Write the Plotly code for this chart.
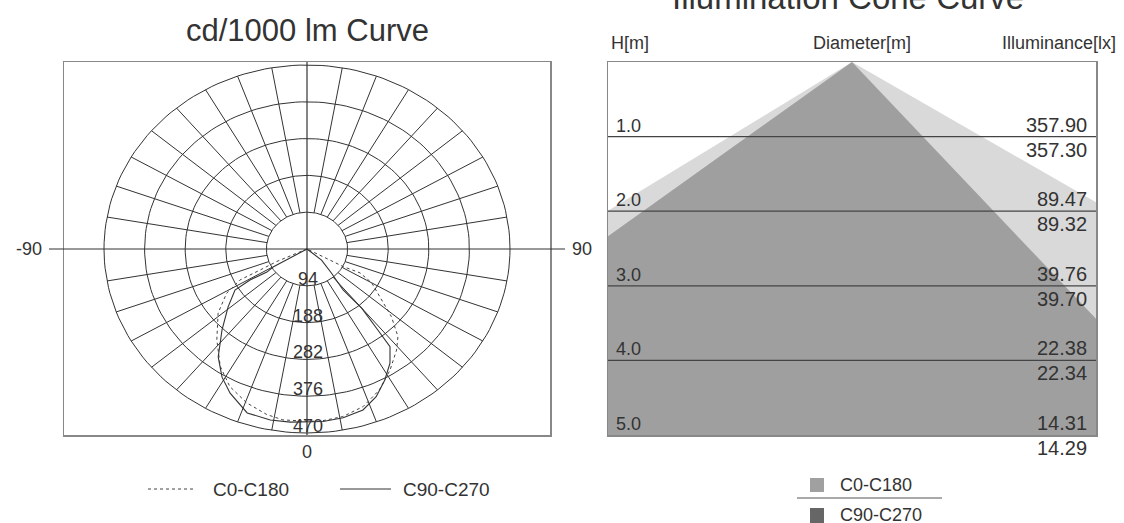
import numpy as np
import plotly.graph_objects as go

# ---------------- data ----------------
# polar intensity curves (angle in degrees from nadir, negative = left; value in cd/1000 lm)
c0_angle = [-90, -65.5, -63.7, -63, -58.7, -51.5, -42, -33.8, -27, -19.6, -12.4, -7.3, 0,
            3.9, 11, 17.9, 25, 31.9, 38.8, 43.3, 48.5, 54, 60, 63.6, 61.8, 62, 90]
c0_value = [0, 77, 121, 174, 218, 263, 312, 361, 394, 417, 433, 440, 440,
            441, 436, 423, 397, 364, 331, 307, 261, 208, 173, 137, 95, 60, 0]
c90_angle = [-90, -59.7, -57.6, -59, -57.8, -51, -43.5, -36.7, -31, -25.8, -18.3, -11, -5, 0,
             4.8, 11, 17.5, 23, 28.3, 33.4, 37.6, 38.4, 40, 38.6, 42.6, 50, 90]
c90_value = [0, 91, 110, 154, 197, 235, 286, 344, 382, 409, 441, 445, 444, 442,
             442, 439, 431, 410, 380, 349, 315, 264, 197, 134, 84, 44, 0]
ring_values = [94, 188, 282, 376, 470]
spoke_step = 10

# illumination cone
heights = [1, 2, 3, 4, 5]
illum_c0 = ["357.90", "89.47", "39.76", "22.38", "14.31"]
illum_c90 = ["357.30", "89.32", "39.70", "22.34", "14.29"]
# half-width of the cone per metre of height (left, right)
c0_spread = [1.64, 1.74]
c90_spread = [1.40, 0.95]

W, H = 1124, 523
FONT = "Liberation Sans, Arial, sans-serif"
TXT = "#333333"


def px(x):
    return x / W


def py(y):
    return 1 - y / H


def polar_xy(angles, values):
    a = np.radians(np.array(angles, dtype=float))
    r = np.array(values, dtype=float)
    return r * np.sin(a), -r * np.cos(a)


fig = go.Figure()

# ---- polar grid ----
t = np.radians(np.arange(0, 361, 2))
gx, gy = [], []
for rv in ring_values:
    gx += list(rv * np.sin(t)) + [None]
    gy += list(-rv * np.cos(t)) + [None]
for ang in range(0, 360, spoke_step):
    if ang % 90 == 0:
        continue
    a = np.radians(ang)
    gx += [ring_values[0] * np.sin(a), ring_values[-1] * np.sin(a), None]
    gy += [-ring_values[0] * np.cos(a), -ring_values[-1] * np.cos(a), None]
fig.add_trace(go.Scatter(x=gx, y=gy, mode="lines", line=dict(color="#333333", width=1),
                         hoverinfo="skip", showlegend=False, xaxis="x", yaxis="y"))

x0c, y0c = polar_xy(c0_angle, c0_value)
fig.add_trace(go.Scatter(x=x0c, y=y0c, mode="lines", name="C0-C180",
                         line=dict(color="#444444", width=1, dash="dot"),
                         showlegend=False, xaxis="x", yaxis="y"))
x9c, y9c = polar_xy(c90_angle, c90_value)
fig.add_trace(go.Scatter(x=x9c, y=y9c, mode="lines", name="C90-C270",
                         line=dict(color="#333333", width=1.1),
                         showlegend=False, xaxis="x", yaxis="y"))

# ---- cone ----
hmax = heights[-1]
fig.add_trace(go.Scatter(x=[0, -c0_spread[0] * hmax, c0_spread[1] * hmax, 0],
                         y=[0, hmax, hmax, 0], mode="lines", fill="toself",
                         fillcolor="#d9d9d9", line=dict(width=0), name="C0-C180",
                         showlegend=False, xaxis="x2", yaxis="y2", hoverinfo="skip"))
fig.add_trace(go.Scatter(x=[0, -c90_spread[0] * hmax, c90_spread[1] * hmax, 0],
                         y=[0, hmax, hmax, 0], mode="lines", fill="toself",
                         fillcolor="#9f9f9f", line=dict(width=0), name="C90-C270",
                         showlegend=False, xaxis="x2", yaxis="y2", hoverinfo="skip"))

ydom = [py(435), py(62)]
axstyle = dict(showgrid=False, zeroline=False, showticklabels=False, ticks="",
               showline=True, mirror=True, linecolor="#888888", linewidth=1.5, fixedrange=True)
fig.update_layout(
    width=W, height=H, margin=dict(l=0, r=0, t=0, b=0),
    paper_bgcolor="white", plot_bgcolor="white",
    font=dict(family=FONT, color=TXT),
    xaxis=dict(domain=[px(64), px(550)], range=[-243 / 203 * 470, 243 / 203 * 470], **axstyle),
    yaxis=dict(domain=ydom, range=[-186 / 184 * 470, 187 / 184 * 470], **axstyle),
    xaxis2=dict(domain=[px(608), px(1096)], range=[-(1096 - 608) / 2 / 74.6, (1096 - 608) / 2 / 74.6],
                anchor="y2", **axstyle),
    yaxis2=dict(domain=ydom, range=[hmax, 0], anchor="x2", **axstyle),
)

shapes = []
# polar axes lines
shapes.append(dict(type="line", xref="paper", yref="y", x0=px(49), x1=px(565), y0=0, y1=0,
                   line=dict(color="#333333", width=1.2)))
shapes.append(dict(type="line", xref="x", yref="y domain", x0=0, x1=0, y0=0, y1=1,
                   line=dict(color="#333333", width=1.2)))
# cone height lines
for h in heights[:-1]:
    shapes.append(dict(type="line", xref="x2 domain", yref="y2", x0=0, x1=1, y0=h, y1=h,
                       line=dict(color="#444444", width=1.2)))
# polar legend lines
shapes.append(dict(type="line", xref="paper", yref="paper", x0=px(148), x1=px(196), y0=py(489), y1=py(489),
                   line=dict(color="#444444", width=1, dash="dot")))
shapes.append(dict(type="line", xref="paper", yref="paper", x0=px(340), x1=px(391), y0=py(489), y1=py(489),
                   line=dict(color="#333333", width=1)))
# cone legend
shapes.append(dict(type="rect", xref="paper", yref="paper", x0=px(810), x1=px(824), y0=py(492), y1=py(478),
                   fillcolor="#a0a0a0", line=dict(width=0)))
shapes.append(dict(type="line", xref="paper", yref="paper", x0=px(797), x1=px(942), y0=py(498), y1=py(498),
                   line=dict(color="#555555", width=1)))
shapes.append(dict(type="rect", xref="paper", yref="paper", x0=px(810), x1=px(824), y0=py(523), y1=py(508),
                   fillcolor="#666666", line=dict(width=0)))
fig.update_layout(shapes=shapes)

ann = []


def paper_text(text, x, y, size, xanchor="center"):
    ann.append(dict(text=text, xref="paper", yref="paper", x=px(x), y=py(y), xanchor=xanchor,
                    yanchor="middle", showarrow=False, font=dict(size=size, family=FONT, color=TXT)))


paper_text("cd/1000 lm Curve", 307, 30, 31)
paper_text("Illumination Cone Curve", 848, -3, 33)
paper_text("-90", 44, 249, 18, "right")
paper_text("90", 570, 249, 18, "left")
paper_text("0", 307, 452, 18)
paper_text("C0-C180", 211, 489, 19, "left")
paper_text("C90-C270", 401, 489, 19, "left")
paper_text("H[m]", 609, 43, 18, "left")
paper_text("Diameter[m]", 862, 43, 18)
paper_text("Illuminance[lx]", 1118, 43, 18, "right")
paper_text("C0-C180", 838, 485, 18, "left")
paper_text("C90-C270", 838, 515, 18, "left")

for rv in ring_values:
    ann.append(dict(text=str(rv), xref="x", yref="y", x=3, y=-rv, xanchor="center", yanchor="middle",
                    yshift=7, showarrow=False, font=dict(size=18, family=FONT, color=TXT)))

for h, a, b in zip(heights, illum_c0, illum_c90):
    ann.append(dict(text=f"{h:.1f}", xref="x2 domain", yref="y2", x=(614 - 608) / 488, y=h,
                    xanchor="left", yanchor="middle", yshift=11, showarrow=False,
                    font=dict(size=18, family=FONT, color=TXT)))
    ann.append(dict(text=a, xref="x2 domain", yref="y2", x=(1089 - 608) / 488, y=h,
                    xanchor="right", yanchor="middle", yshift=12, showarrow=False,
                    font=dict(size=20, family=FONT, color=TXT)))
    ann.append(dict(text=b, xref="x2 domain", yref="y2", x=(1089 - 608) / 488, y=h,
                    xanchor="right", yanchor="middle", yshift=-13, showarrow=False,
                    font=dict(size=20, family=FONT, color=TXT)))

fig.update_layout(annotations=ann)
fig.write_html("out.html", config={"displayModeBar": False, "staticPlot": True},
               post_script="document.body.style.margin='0';document.body.style.padding='0';")
